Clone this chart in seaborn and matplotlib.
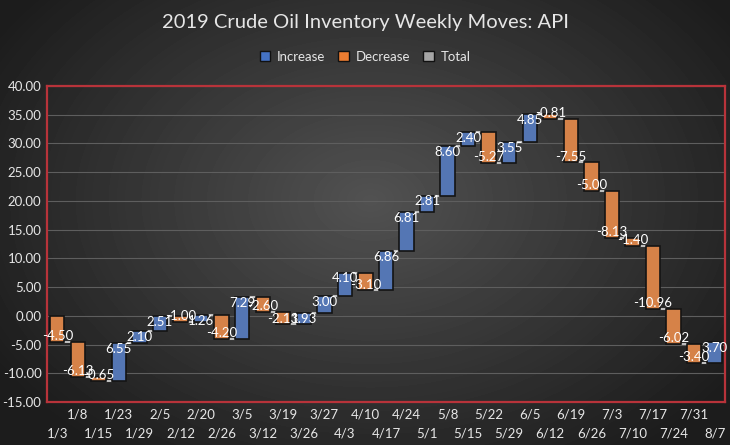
import numpy as np
import pandas as pd
import matplotlib
matplotlib.use("Agg")
import matplotlib.pyplot as plt
from matplotlib.patches import Patch
import seaborn as sns

weeks = ['1/3', '1/8', '1/15', '1/23', '1/29', '2/5', '2/12', '2/20', '2/26',
         '3/5', '3/12', '3/19', '3/26', '3/27', '4/3', '4/10', '4/17', '4/24',
         '5/1', '5/8', '5/15', '5/22', '5/29', '6/5', '6/12', '6/19', '6/26',
         '7/3', '7/10', '7/17', '7/24', '7/31', '8/7']
moves = [-4.50, -6.13, -0.65, 6.55, 2.10, 2.51, -1.00, 1.26, -4.20,
         7.29, -2.60, -2.13, 1.93, 3.00, 4.10, -3.10, 6.86, 6.81,
         2.81, 8.60, 2.40, -5.27, 3.55, 4.85, -0.81, -7.55, -5.00,
         -8.13, -1.40, -10.96, -6.02, -3.40, 3.70]

blue = '#4472C4'
orange = '#ED7D31'
grey = '#A5A5A5'
txt = '#E6E6E6'

df = pd.DataFrame({'week': weeks, 'move': moves})
df['end'] = df['move'].cumsum()
df['start'] = df['end'] - df['move']
df['kind'] = np.where(df['move'] >= 0, 'Increase', 'Decrease')
df['size'] = df['move'].abs()

sns.set_theme(style='dark')
plt.rcParams['font.family'] = ['Lato', 'DejaVu Sans']

fig = plt.figure(figsize=(7.3, 4.45), dpi=100)

# radial background
bg = fig.add_axes([0, 0, 1, 1], zorder=-10)
yy, xx = np.mgrid[0:445, 0:730]
r = np.sqrt(((xx - 370) / 420.0) ** 2 + ((yy - 200) / 300.0) ** 2)
shade = np.clip(0.32 - 0.2 * r, 0.11, 0.32)
bg.imshow(shade, cmap='gray', vmin=0, vmax=1, aspect='auto')
bg.axis('off')

ax = fig.add_axes([0.0644, 0.0966, 0.9286, 0.7104])
ax.patch.set_alpha(0)
w = 0.7
sns.barplot(data=df, x='week', y='size', hue='kind', dodge=False,
            palette={'Increase': blue, 'Decrease': orange},
            order=weeks, width=w, legend=False, ax=ax,
            edgecolor='#141414', linewidth=1.2)

lows = np.minimum(df['start'], df['end']).values
for p in ax.patches:
    i = int(round(p.get_x() + p.get_width() / 2))
    p.set_y(lows[i])
    p.set_height(df['size'][i])
    p.set_zorder(3)

# connectors
for i in range(len(weeks) - 1):
    ax.hlines(df['end'][i], i + w / 2, i + 1 - w / 2, color='#BFBFBF', lw=1.5, zorder=2)

# labels near bar ends
for i, (m, e) in enumerate(zip(df['move'], df['end'])):
    off = -1.0 if m >= 0 else 1.0
    ax.text(i, e + off, f'{m:.2f}', ha='center', va='center', color='white',
            fontsize=9.5, zorder=5)

ax.set_ylim(-15, 40)
ax.set_xlim(-0.5, len(weeks) - 0.5)
ax.set_yticks(np.arange(-15, 41, 5))
ax.set_yticklabels([f'{v:.2f}' for v in np.arange(-15, 41, 5)], color=txt, fontsize=9.5)
idx = np.arange(len(weeks))
ax.set_xticks(idx[::2])
ax.set_xticklabels(weeks[::2], color=txt, fontsize=9.5)
ax.set_xticks(idx[1::2], minor=True)
ax.set_xticklabels(weeks[1::2], minor=True, color=txt, fontsize=9.5)
ax.tick_params(axis='x', which='major', length=0, pad=18)
ax.tick_params(axis='x', which='minor', length=0, pad=5)
ax.tick_params(axis='y', length=0, pad=4)
ax.set_xlabel('')
ax.set_ylabel('')
ax.grid(axis='y', color='#5E5E5E', lw=0.8)
ax.set_axisbelow(True)
for s in ax.spines.values():
    s.set_visible(True)
    s.set_color('#B8333A')
    s.set_linewidth(1.6)

fig.text(0.5, 0.95, '2019 Crude Oil Inventory Weekly Moves: API', ha='center', va='center',
         color=txt, fontsize=14.5)
handles = [Patch(facecolor=blue, edgecolor='#111111', label='Increase'),
           Patch(facecolor=orange, edgecolor='#111111', label='Decrease'),
           Patch(facecolor=grey, edgecolor='#111111', label='Total')]
fig.legend(handles=handles, loc='center', bbox_to_anchor=(0.5, 0.872), ncol=3,
           frameon=False, fontsize=9.5, labelcolor=txt, handlelength=0.8,
           handleheight=0.8, handletextpad=0.5, columnspacing=1.0)

fig.savefig('out.png', dpi=100)
